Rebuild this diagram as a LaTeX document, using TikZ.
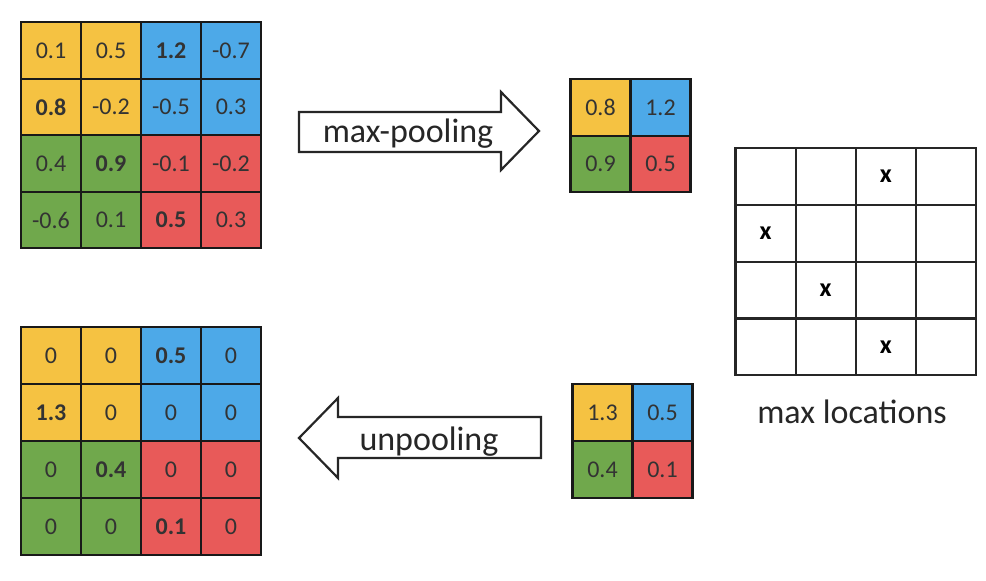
\documentclass[tikz,border=0pt]{standalone}
\usepackage{fontspec}
\setmainfont{Carlito}
\definecolor{cy}{HTML}{F5C242}
\definecolor{cb}{HTML}{4DA9E8}
\definecolor{cg}{HTML}{70A84C}
\definecolor{cr}{HTML}{E85A59}
\definecolor{tx}{HTML}{333333}
\begin{document}
\begin{tikzpicture}[x=0.5pt,y=-0.5pt,
  cell/.style={draw=black!90,line width=1.1pt,minimum width=30pt,minimum height=28.3pt,
    inner sep=0pt,outer sep=0pt,font=\fontsize{12}{12}\selectfont,text=tx},
  loc/.style={draw=black!85,line width=1.1pt,minimum width=30.1pt,minimum height=28.4pt,
    inner sep=0pt,outer sep=0pt,font=\fontsize{13}{13}\selectfont\bfseries},
  bigarrow/.style={draw=black!85,line width=1.1pt,fill=white,line join=miter},
  lbl/.style={font=\fontsize{17}{18}\selectfont,text=black!85,anchor=base,inner sep=0pt}]
\useasboundingbox (0,0) rectangle (986,580);

% input grid
\foreach \r/\ca/\cb/\va/\vb/\vc/\vd in {
  0/cy/cb/0.1/0.5/\textbf{1.2}/-0.7,
  1/cy/cb/\textbf{0.8}/-0.2/-0.5/0.3,
  2/cg/cr/0.4/\textbf{0.9}/-0.1/-0.2,
  3/cg/cr/-0.6/0.1/\textbf{0.5}/0.3}{
  \node[cell,fill=\ca] (a\r0) at (51,{50.5+56.5*\r}) {\va};
  \node[cell,fill=\ca] (a\r1) at (111,{50.5+56.5*\r}) {\vb};
  \node[cell,fill=\cb] (a\r2) at (171,{50.5+56.5*\r}) {\vc};
  \node[cell,fill=\cb] (a\r3) at (231,{50.5+56.5*\r}) {\vd};
}

% unpooled grid
\foreach \r/\ca/\cb/\va/\vb/\vc/\vd in {
  0/cy/cb/0/0/\textbf{0.5}/0,
  1/cy/cb/\textbf{1.3}/0/0/0,
  2/cg/cr/0/\textbf{0.4}/0/0,
  3/cg/cr/0/0/\textbf{0.1}/0}{
  \node[cell,fill=\ca] (u\r0) at (51,{355.5+57*\r}) {\va};
  \node[cell,fill=\ca] (u\r1) at (111,{355.5+57*\r}) {\vb};
  \node[cell,fill=\cb] (u\r2) at (171,{355.5+57*\r}) {\vc};
  \node[cell,fill=\cb] (u\r3) at (231,{355.5+57*\r}) {\vd};
}

% pooled grid (top)
\node[cell,fill=cy] (p00) at (600.5,107.5) {0.8};
\node[cell,fill=cb] (p01) at (660.5,107.5) {1.2};
\node[cell,fill=cg] (p10) at (600.5,164) {0.9};
\node[cell,fill=cr] (p11) at (660.5,164) {0.5};

% pooled grid (bottom)
\node[cell,fill=cy] (q00) at (602.5,412.5) {1.3};
\node[cell,fill=cb] (q01) at (662.5,412.5) {0.5};
\node[cell,fill=cg] (q10) at (602.5,469.5) {0.4};
\node[cell,fill=cr] (q11) at (662.5,469.5) {0.1};

% max locations grid
\foreach \r in {0,1,2,3}{
  \foreach \c in {0,1,2,3}{
    \node[loc] (m\r\c) at ({765.5+60.2*\c},{176.5+56.8*\r}) {};
  }
}
\node[loc,draw=none] at (m02) {x};
\node[loc,draw=none] at (m10) {x};
\node[loc,draw=none] at (m21) {x};
\node[loc,draw=none] at (m32) {x};
\node[lbl] (loclbl) at (852,423) {max locations};

% max-pooling arrow
\draw[bigarrow] (299,112) -- (501,112) -- (501,92) -- (539,131) -- (501,170)
  -- (501,152) -- (299,152) -- cycle;
\node[lbl] (mplbl) at (408,142) {max-pooling};

% unpooling arrow
\draw[bigarrow] (299,438) -- (338,398) -- (338,417) -- (541,417) -- (541,458)
  -- (338,458) -- (338,478) -- cycle;
\node[lbl] (uplbl) at (429,450) {unpooling};
\end{tikzpicture}
\end{document}
